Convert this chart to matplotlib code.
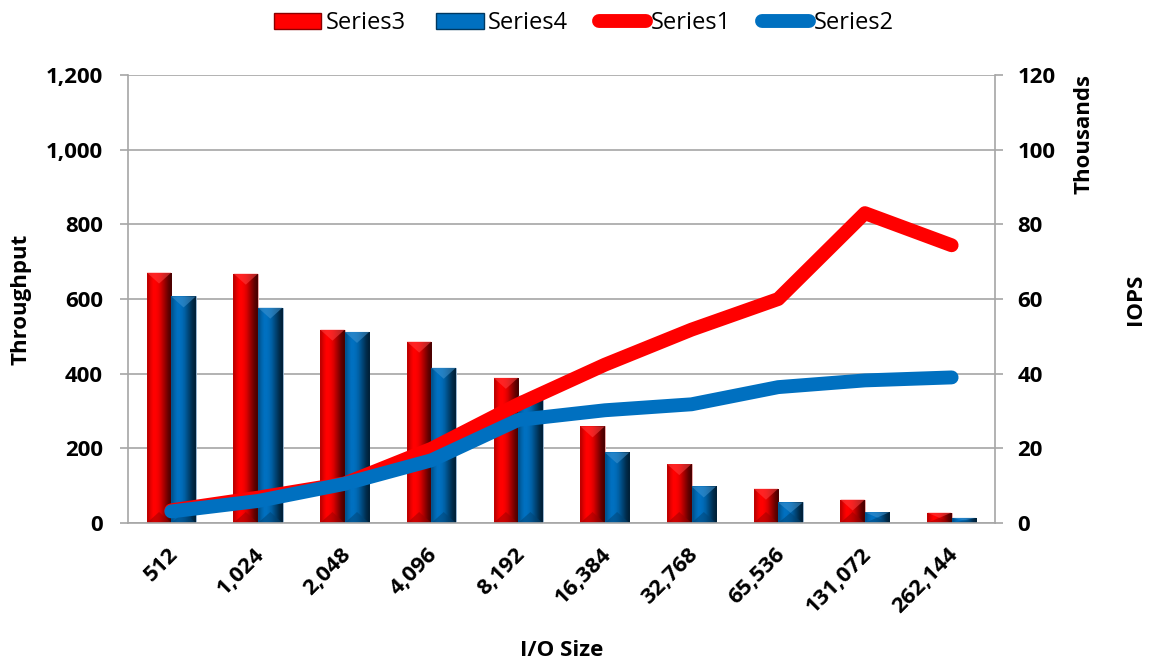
import matplotlib
matplotlib.use("Agg")
import matplotlib.pyplot as plt
import numpy as np
from matplotlib.patches import Patch, Polygon
from matplotlib.lines import Line2D
from matplotlib.ticker import FuncFormatter
import matplotlib.transforms as mtransforms

plt.rcParams['font.family'] = ['Open Sans', 'DejaVu Sans']

# data
io_sizes = ["512", "1,024", "2,048", "4,096", "8,192", "16,384", "32,768", "65,536", "131,072", "262,144"]
# throughput lines (left axis)
series1 = [34, 68, 106, 199, 318, 424, 518, 600, 830, 744]
series2 = [31, 59, 105, 168, 276, 302, 318, 364, 382, 390]
# IOPS bars (right axis, thousands)
series3 = [67.1, 66.8, 51.8, 48.6, 38.9, 25.9, 15.8, 9.2, 6.3, 2.8]
series4 = [60.7, 57.7, 51.2, 41.6, 34.1, 18.9, 9.8, 5.5, 2.9, 1.4]

RED = "#FF0000"
BLUE = "#0070C0"
GRID = "#A6A6A6"
FS = 16

fig = plt.figure(figsize=(11.56, 6.65), dpi=100)
ax = fig.add_axes([0.1107, 0.2135, 0.75, 0.6737])
ax2 = ax.twinx()
ax.set_zorder(ax2.get_zorder() + 1)
ax.patch.set_visible(False)

x = np.arange(len(io_sizes))
w = 0.283

bars3 = ax2.bar(x - w / 2, series3, w, color=RED, edgecolor="#E8B0B0", linewidth=0.6, zorder=2)
bars4 = ax2.bar(x + w / 2, series4, w, color=BLUE, edgecolor="#A0B8D0", linewidth=0.6, zorder=2)

ax.set_xlim(-0.5, len(io_sizes) - 0.5)
ax.set_ylim(0, 1200)
ax2.set_ylim(0, 120)


def shade(c, f):
    c = np.array(matplotlib.colors.to_rgb(c))
    if f < 1:
        return c * f
    return c + (1 - c) * (f - 1)


# bevelled look for the bars
fig.canvas.draw()
for bars, col in ((bars3, RED), (bars4, BLUE)):
    for p in bars:
        x0, y0 = p.get_x(), p.get_y()
        x1, y1 = x0 + p.get_width(), y0 + p.get_height()
        prof = np.array([0.75, 0.9, 1.0, 1.0, 0.95, 0.85, 0.7, 0.55, 0.4, 0.3])
        img = np.array([[shade(col, f) for f in prof]])
        im = ax2.imshow(img, extent=[x0, x1, y0, y1], aspect="auto", zorder=2.1,
                        interpolation="bilinear")
        im.set_clip_path(p)
        # bevel triangles
        pw = ax2.transData.transform((x1, 0))[0] - ax2.transData.transform((x0, 0))[0]
        ph = abs(ax2.transData.transform((0, y1))[1] - ax2.transData.transform((0, y0))[1])
        dpx = min(pw * 0.45, ph / 2)
        dy = ax2.transData.inverted().transform((0, dpx))[1] - ax2.transData.inverted().transform((0, 0))[1]
        xc = (x0 + x1) / 2
        top = Polygon([(x0, y1), (x1, y1), (xc, y1 - dy)], closed=True,
                      facecolor=shade(col, 1.25), edgecolor="none", alpha=0.55, zorder=2.2)
        bot = Polygon([(x0, y0), (x1, y0), (xc, y0 + dy)], closed=True,
                      facecolor=shade(col, 0.6), edgecolor="none", alpha=0.5, zorder=2.2)
        ax2.add_patch(top)
        ax2.add_patch(bot)

ax.set_xlim(-0.5, len(io_sizes) - 0.5)
ax2.set_ylim(0, 120)

ax.plot(x, series1, color=RED, lw=10, solid_capstyle="round", solid_joinstyle="round", zorder=3)
ax.plot(x, series2, color=BLUE, lw=10, solid_capstyle="round", solid_joinstyle="round", zorder=4)

# grid on bar axis so it sits behind the bars
ax2.set_yticks(np.arange(0, 121, 20))
ax2.grid(axis="y", color=GRID, lw=1.2, zorder=0)
ax2.set_axisbelow(True)
ax.set_yticks(np.arange(0, 1201, 200))
ax.yaxis.set_major_formatter(FuncFormatter(lambda v, p: f"{int(v):,}"))

for s in ax.spines.values():
    s.set_visible(False)
for s in ("left", "right", "bottom"):
    ax2.spines[s].set_color(GRID)
    ax2.spines[s].set_linewidth(1.2)
ax2.spines["top"].set_visible(False)

ax.tick_params(axis="y", direction="out", length=6, color=GRID, width=1.2, pad=12,
               labelsize=FS)
ax2.tick_params(axis="y", direction="out", length=6, color=GRID, width=1.2, pad=10,
                labelsize=FS)
ax.tick_params(axis="x", length=0, labelsize=FS, pad=15)
for lab in ax.get_yticklabels() + ax2.get_yticklabels():
    lab.set_fontweight("bold")

ax.set_xticks(x)
ax.set_xticklabels(io_sizes, rotation=45, ha="right", va="top", rotation_mode="anchor",
                   fontweight="bold")
off = mtransforms.ScaledTranslation(-3 / 72, 0, fig.dpi_scale_trans)
for lab in ax.get_xticklabels():
    lab.set_transform(lab.get_transform() + off)

ax.set_xlabel("I/O Size", fontsize=FS, fontweight="bold", labelpad=16)
ax.set_ylabel("Throughput", fontsize=FS, fontweight="bold", labelpad=10)
ax2.set_ylabel("IOPS", fontsize=FS, fontweight="bold", labelpad=50)
fig.text(0.938, 0.889, "Thousands", rotation=90, ha="center", va="top",
         fontsize=FS, fontweight="bold")

handles = [
    Patch(facecolor=RED, edgecolor="#8B0000"),
    Patch(facecolor=BLUE, edgecolor="#003860"),
    Line2D([0], [0], color=RED, lw=10, solid_capstyle="round"),
    Line2D([0], [0], color=BLUE, lw=10, solid_capstyle="round"),
]
fig.legend(handles, ["Series3", "Series4", "Series1", "Series2"], loc="upper center",
           bbox_to_anchor=(0.505, 1.015), ncol=4, frameon=False, fontsize=17,
           handlelength=2.0, handletextpad=0.2, columnspacing=1.3, handleheight=0.7)

fig.savefig("out.png", dpi=100, facecolor="white")
